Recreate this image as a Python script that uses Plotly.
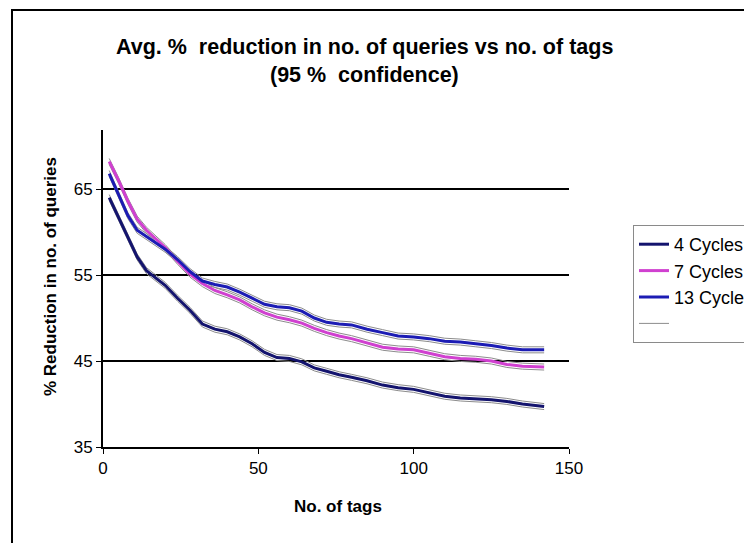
import plotly.graph_objects as go

tags = [2, 5, 8, 11, 14, 17, 20, 24, 28, 32, 36, 40, 44, 48, 52, 56, 60, 64, 68, 72,
        76, 80, 85, 90, 95, 100, 105, 110, 115, 120, 125, 130, 135, 142]

cycles4 = [64.0, 61.7, 59.4, 57.1, 55.5, 54.6, 53.8, 52.3, 50.9, 49.3, 48.7, 48.4, 47.8,
           47.0, 46.0, 45.4, 45.3, 44.9, 44.2, 43.8, 43.4, 43.1, 42.7, 42.2, 41.9, 41.7,
           41.3, 40.9, 40.7, 40.6, 40.5, 40.3, 40.0, 39.7]
cycles7 = [68.2, 66.0, 63.6, 61.5, 60.2, 59.2, 58.2, 56.6, 55.1, 54.0, 53.2, 52.7, 52.1,
           51.3, 50.6, 50.1, 49.8, 49.4, 48.8, 48.3, 47.9, 47.6, 47.1, 46.6, 46.4, 46.3,
           45.9, 45.5, 45.3, 45.2, 45.0, 44.6, 44.4, 44.3]
cycles13 = [66.8, 64.4, 61.9, 60.2, 59.5, 58.8, 58.0, 56.8, 55.4, 54.3, 53.9, 53.6, 53.0,
            52.3, 51.6, 51.3, 51.2, 50.8, 50.0, 49.5, 49.3, 49.2, 48.7, 48.3, 47.9, 47.8,
            47.6, 47.3, 47.2, 47.0, 46.8, 46.5, 46.3, 46.3]

series_names = ["4 Cycles", "7 Cycles", "13 Cycles"]
series_values = [cycles4, cycles7, cycles13]
series_colors = ["#14146e", "#d040d0", "#1c1cb4"]
ci_halfwidth = [0.35, 0.35, 0.35]   # 95 % confidence half-width

x_ticks = [0, 50, 100, 150]
y_ticks = [35, 45, 55, 65]

FONT = "Liberation Sans, Arial, sans-serif"

fig = go.Figure()

# confidence bounds (thin gray lines), drawn first so they sit below the series
first = True
for vals, hw in zip(series_values, ci_halfwidth):
    for sgn in (1, -1):
        fig.add_trace(go.Scatter(
            x=tags, y=[v + sgn * hw for v in vals], mode="lines", name=" ",
            line=dict(color="#8c8c8c", width=1),
            legendgroup="ci", showlegend=first, legendrank=10,
        ))
        first = False

# main series
for i, (name, vals, col) in enumerate(zip(series_names, series_values, series_colors)):
    fig.add_trace(go.Scatter(
        x=tags, y=vals, mode="lines", name=name,
        line=dict(color=col, width=3),
        legendgroup=f"g{i}", legendrank=i + 1,
    ))

# page body has an 8px margin: figure is laid out 8px smaller and offset
W, H = 744, 535
L, T = 95, 122          # plot area left / top inside the figure
PW, PH = 466, 317       # plot area width / height

fig.update_layout(
    width=W, height=H,
    margin=dict(l=L, r=W - L - PW, t=T, b=H - T - PH, autoexpand=False),
    paper_bgcolor="white", plot_bgcolor="white",
    font=dict(family=FONT, color="black", size=17),
    showlegend=True,
    legend=dict(
        x=(633 - 103) / PW, y=1 - (225 - 130) / PH,
        xanchor="left", yanchor="top",
        bordercolor="#8a8a8a", borderwidth=1, bgcolor="white",
        font=dict(family=FONT, size=18, color="black"),
        traceorder="grouped", tracegroupgap=0,
        itemwidth=30,
    ),
    xaxis=dict(
        range=[0, 150], tickvals=x_ticks, ticks="outside", ticklen=5,
        tickcolor="black", showline=True, linecolor="black", linewidth=2,
        showgrid=False, zeroline=False,
        tickfont=dict(family=FONT, size=17, color="black"),
    ),
    yaxis=dict(
        range=[35, 35 + PH / 8.6], tickvals=y_ticks, ticks="outside",
        ticklen=5, tickcolor="black", showline=True, linecolor="black", linewidth=2,
        showgrid=True, gridcolor="black", gridwidth=1.5, zeroline=False,
        tickfont=dict(family=FONT, size=17, color="black"),
    ),
    shapes=[dict(type="rect", xref="paper", yref="paper",
                 x0=(12 - 103) / PW, x1=2.0,
                 y0=-1.0, y1=1 + (130 - 10) / PH,
                 line=dict(color="black", width=2), fillcolor="rgba(0,0,0,0)",
                 layer="below")],
    annotations=[
        dict(text="<b>Avg. %  reduction in no. of queries vs no. of tags</b>",
             xref="paper", yref="paper", x=(364 - 103) / PW,
             y=1 + (130 - 47) / PH, xanchor="center", yanchor="middle",
             showarrow=False, font=dict(family=FONT, size=21.5, color="black")),
        dict(text="<b>(95 %  confidence)</b>",
             xref="paper", yref="paper", x=(364 - 103) / PW,
             y=1 + (130 - 75) / PH, xanchor="center", yanchor="middle",
             showarrow=False, font=dict(family=FONT, size=21.5, color="black")),
        dict(text="<b>% Reduction in no. of queries</b>", textangle=-90,
             xref="paper", yref="paper", x=(50 - 103) / PW,
             y=1 - (277 - 130) / PH, xanchor="center", yanchor="middle",
             showarrow=False, font=dict(family=FONT, size=17, color="black")),
        dict(text="<b>No. of tags</b>",
             xref="paper", yref="paper", x=(338 - 103) / PW,
             y=-(506 - 447) / PH, xanchor="center", yanchor="middle",
             showarrow=False, font=dict(family=FONT, size=17, color="black")),
    ],
)

fig.write_html("out.html")
